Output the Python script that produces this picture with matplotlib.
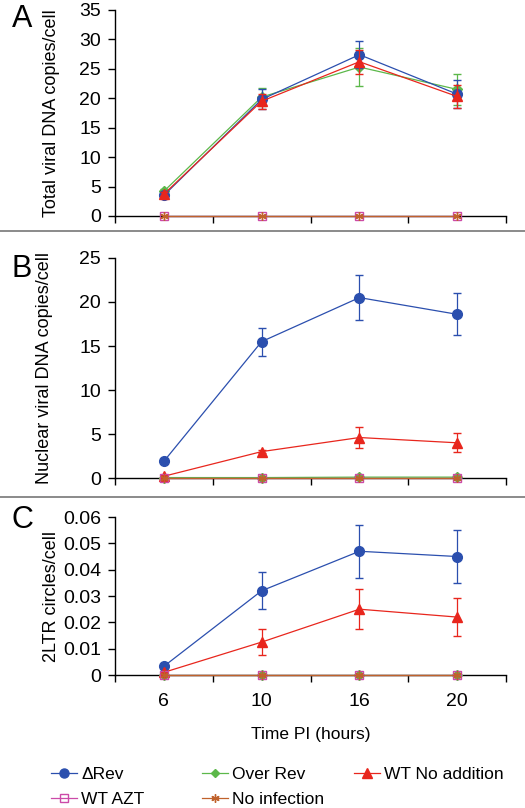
import numpy as np
import matplotlib
matplotlib.use('Agg')
import matplotlib.pyplot as plt
from matplotlib.lines import Line2D

plt.rcParams['font.family'] = ['Liberation Sans', 'DejaVu Sans']

# Datos
horas = ['6', '10', '16', '20']
series = ['\u0394Rev', 'Over Rev', 'WT No addition', 'WT AZT', 'No infection']

# Panel A: ADN viral total
a_drev = [3.5, 19.8, 27.4, 20.7]
a_drev_err = [0.3, 1.7, 2.3, 2.4]
a_over = [4.2, 20.2, 25.3, 21.5]
a_over_err = [0.3, 1.5, 3.2, 2.6]
a_wt = [3.7, 19.5, 26.2, 20.3]
a_wt_err = [0.3, 1.3, 2.0, 2.0]
a_azt = [0, 0, 0, 0]
a_noinf = [0, 0, 0, 0]

# Panel B: ADN viral nuclear
b_drev = [1.9, 15.5, 20.5, 18.6]
b_drev_err = [0.1, 1.6, 2.6, 2.4]
b_over = [0.05, 0.05, 0.1, 0.1]
b_over_err = [0.02, 0.05, 0.05, 0.05]
b_wt = [0.2, 3.0, 4.6, 4.0]
b_wt_err = [0.1, 0.2, 1.2, 1.1]
b_azt = [0, 0, 0, 0]
b_noinf = [0, 0, 0, 0]

# Panel C: círculos 2LTR
c_drev = [0.0033, 0.032, 0.047, 0.045]
c_drev_err = [0.0003, 0.007, 0.010, 0.010]
c_over = [0, 0, 0, 0]
c_over_err = [0, 0, 0, 0]
c_wt = [0.001, 0.0125, 0.025, 0.022]
c_wt_err = [0.0002, 0.005, 0.0075, 0.0072]
c_azt = [0, 0, 0, 0]
c_noinf = [0, 0, 0, 0]

colores = {'drev': '#2b4fae', 'over': '#5cb84a', 'wt': '#e8261d',
           'azt': '#cc4aa8', 'noinf': '#c0622c'}

fig = plt.figure(figsize=(5.25, 8.08), dpi=100)

paneles = [
    ('A', [0.219, 0.7327, 0.745, 0.255], (0, 35), np.arange(0, 36, 5), '%d',
     'Total viral DNA copies/cell', 14,
     (a_drev, a_drev_err), (a_over, a_over_err), (a_wt, a_wt_err), a_azt, a_noinf),
    ('B', [0.219, 0.4084, 0.745, 0.2723], (0, 25), np.arange(0, 26, 5), '%d',
     'Nuclear viral DNA copies/cell', 19,
     (b_drev, b_drev_err), (b_over, b_over_err), (b_wt, b_wt_err), b_azt, b_noinf),
    ('C', [0.219, 0.1646, 0.745, 0.1955], (0, 0.06), np.arange(0, 0.061, 0.01), None,
     '2LTR circles/cell', 2,
     (c_drev, c_drev_err), (c_over, c_over_err), (c_wt, c_wt_err), c_azt, c_noinf),
]

x = np.arange(1, len(horas) + 1)
lw = 0.9

for letra, pos, ylim, yticks, fmt, ylabel, pad, drev, over, wt, azt, noinf in paneles:
    ax = fig.add_axes(pos)
    ax.errorbar(x, over[0], yerr=over[1], color=colores['over'], marker='D', ms=5,
                lw=lw, capsize=3, elinewidth=lw, clip_on=False, zorder=3)
    ax.errorbar(x, drev[0], yerr=drev[1], color=colores['drev'], marker='o', ms=7,
                lw=lw, capsize=3, elinewidth=lw, clip_on=False, zorder=4)
    ax.errorbar(x, wt[0], yerr=wt[1], color=colores['wt'], marker='^', ms=7,
                lw=lw, capsize=3, elinewidth=lw, clip_on=False, zorder=5)
    ax.plot(x, azt, color=colores['azt'], marker='s', ms=5.5, mfc='none', lw=lw,
            clip_on=False, zorder=6)
    ax.plot(x, noinf, color=colores['noinf'], marker=(6, 2, 0), ms=6, lw=lw,
            clip_on=False, zorder=7)

    ax.set_xlim(0.5, 4.5)
    ax.set_ylim(*ylim)
    ax.set_yticks(yticks)
    if fmt:
        ax.set_yticklabels([fmt % v for v in yticks])
    else:
        ax.set_yticklabels(['0'] + ['%.2f' % v for v in yticks[1:]])
    ax.set_xticks(np.arange(0.5, 4.6, 1))
    ax.set_xticklabels([])
    ax.set_xticks(x, minor=True)
    if letra == 'C':
        ax.set_xticklabels(horas, minor=True)
        ax.set_xlabel('Time PI (hours)', fontsize=12.5, labelpad=12)
    ax.tick_params(axis='x', which='major', direction='out', length=5, width=1)
    ax.tick_params(axis='x', which='minor', length=0, labelsize=14, pad=13)
    ax.tick_params(axis='y', direction='out', length=5, width=1, labelsize=14, pad=5)
    for s in ['top', 'right']:
        ax.spines[s].set_visible(False)
    for s in ['left', 'bottom']:
        ax.spines[s].set_linewidth(1)
    ax.set_ylabel(ylabel, fontsize=13, labelpad=pad)
    ax.patch.set_alpha(0)

# Letras de panel
fig.text(0.022, 0.976, 'A', fontsize=22, va='center')
fig.text(0.022, 0.667, 'B', fontsize=22, va='center')
fig.text(0.022, 0.356, 'C', fontsize=22, va='center')

# Líneas separadoras
for yy in [1 - 231 / 808, 1 - 497 / 808]:
    fig.add_artist(Line2D([0, 1], [yy, yy], color='#777777', lw=1.2))

# Leyenda en tres columnas
handles = [
    Line2D([], [], color=colores['drev'], marker='o', ms=6.5, lw=lw),
    Line2D([], [], color=colores['azt'], marker='s', ms=5.5, mfc='none', lw=lw),
    Line2D([], [], color=colores['over'], marker='D', ms=4.5, lw=lw),
    Line2D([], [], color=colores['noinf'], marker=(6, 2, 0), ms=6, lw=lw),
    Line2D([], [], color=colores['wt'], marker='^', ms=6.5, lw=lw),
]
labels = [series[0], series[3], series[1], series[4], series[2]]
columnas = [(0, 2, 57), (2, 4, 208), (4, 5, 360)]
for i0, i1, xpx in columnas:
    leg = fig.legend(handles[i0:i1], labels[i0:i1], loc='upper left',
                     bbox_to_anchor=(xpx / 525 - 0.012, 1 - 767 / 808),
                     frameon=False, fontsize=12.5, handlelength=1.5,
                     handletextpad=0.25, labelspacing=0.55, borderpad=0,
                     borderaxespad=0)

fig.savefig('out.png', dpi=100)
